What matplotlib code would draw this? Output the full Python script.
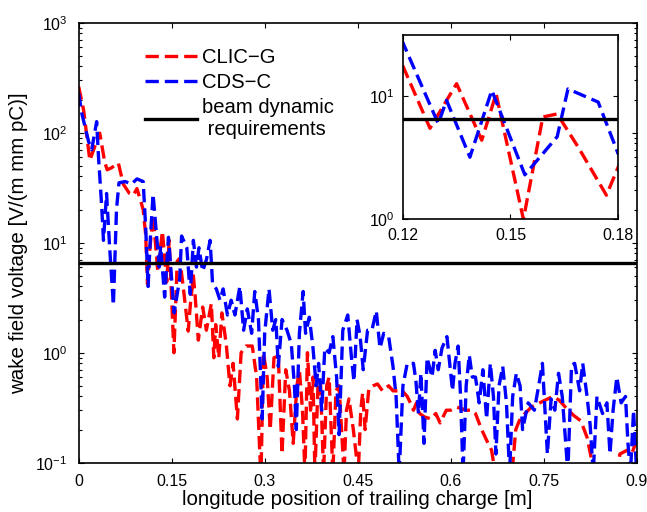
import matplotlib
matplotlib.use("Agg")
import matplotlib.pyplot as plt
from matplotlib.ticker import FixedLocator, NullLocator, LogLocator

# wake field along the trailing charge
clic_x = [0.000, 0.008, 0.018, 0.026, 0.034, 0.042, 0.046, 0.053, 0.064, 0.072,
          0.082, 0.088, 0.094, 0.100, 0.104, 0.108, 0.111, 0.115, 0.120, 0.1276,
          0.135, 0.142, 0.146, 0.1536, 0.159, 0.163, 0.169, 0.1767, 0.180, 0.185,
          0.188, 0.193, 0.200, 0.206, 0.214, 0.218, 0.221, 0.226, 0.231, 0.238,
          0.244, 0.249, 0.256, 0.262, 0.270, 0.280, 0.287, 0.294, 0.298, 0.304,
          0.309, 0.315, 0.322, 0.328, 0.334, 0.340, 0.346, 0.352, 0.356, 0.361,
          0.365, 0.369, 0.374, 0.378, 0.381, 0.386, 0.390, 0.395, 0.400, 0.404,
          0.410, 0.415, 0.420, 0.428, 0.432, 0.436, 0.443, 0.451, 0.455, 0.458,
          0.462, 0.468, 0.475, 0.482, 0.490, 0.500, 0.507, 0.515, 0.522, 0.530,
          0.535, 0.540, 0.545, 0.550, 0.558, 0.569, 0.576, 0.583, 0.593, 0.600,
          0.610, 0.625, 0.635, 0.640, 0.650, 0.658, 0.666, 0.672, 0.685, 0.698,
          0.705, 0.712, 0.720, 0.730, 0.748, 0.765, 0.775, 0.785, 0.798, 0.810,
          0.820, 0.830, 0.850, 0.866, 0.873, 0.885, 0.892, 0.900]
clic_v = [262, 160, 56, 75, 99, 54, 46, 48, 53, 34,
          28, 27, 31, 24, 20, 12, 4.2, 9, 17.8, 5.5,
          12.7, 4.4, 10.5, 1.0, 6.8, 7.2, 3.8, 1.57, 2.67, 5.0,
          3.2, 1.3, 2.6, 1.6, 2.8, 0.9, 1.8, 0.9, 2.3, 1.2,
          0.5, 0.8, 0.25, 1.0, 1.15, 1.15, 0.6, 0.07, 1.0, 0.6,
          0.2, 0.9, 0.93, 0.12, 0.7, 0.45, 0.15, 0.5, 0.7, 0.3,
          0.08, 1.0, 0.3, 0.6, 0.08, 0.5, 0.55, 0.08, 0.5, 0.6,
          0.08, 0.45, 0.5, 0.08, 0.3, 0.38, 0.2, 0.08, 0.3, 0.43,
          0.2, 0.47, 0.5, 0.52, 0.45, 0.5, 0.45, 0.45, 0.45, 0.4,
          0.35, 0.3, 0.35, 0.28, 0.26, 0.25, 0.28, 0.23, 0.3, 0.3,
          0.32, 0.3, 0.3, 0.28, 0.2, 0.16, 0.13, 0.08, 0.05, 0.07,
          0.2, 0.25, 0.28, 0.32, 0.36, 0.4, 0.37, 0.32, 0.27, 0.24,
          0.17, 0.09, 0.05, 0.07, 0.12, 0.13, 0.12, 0.16]

cds_x = [0.000, 0.005, 0.016, 0.021, 0.029, 0.032, 0.037, 0.040, 0.045, 0.050,
         0.056, 0.061, 0.065, 0.075, 0.085, 0.094, 0.104, 0.108, 0.112, 0.116,
         0.120, 0.1299, 0.1322, 0.1387, 0.1448, 0.154, 0.163, 0.166, 0.1744, 0.180,
         0.185, 0.190, 0.194, 0.200, 0.206, 0.212, 0.216, 0.222, 0.228, 0.233,
         0.240, 0.246, 0.252, 0.260, 0.266, 0.272, 0.279, 0.284, 0.290, 0.296,
         0.300, 0.307, 0.313, 0.318, 0.322, 0.328, 0.336, 0.343, 0.348, 0.351,
         0.356, 0.362, 0.366, 0.372, 0.378, 0.383, 0.387, 0.392, 0.397, 0.404,
         0.410, 0.416, 0.420, 0.426, 0.434, 0.440, 0.444, 0.449, 0.454, 0.459,
         0.466, 0.473, 0.480, 0.486, 0.492, 0.500, 0.507, 0.512, 0.517, 0.523,
         0.530, 0.540, 0.544, 0.548, 0.552, 0.557, 0.562, 0.570, 0.575, 0.580,
         0.586, 0.594, 0.599, 0.603, 0.607, 0.612, 0.616, 0.620, 0.625, 0.630,
         0.635, 0.640, 0.646, 0.652, 0.658, 0.664, 0.669, 0.673, 0.678, 0.684,
         0.690, 0.695, 0.700, 0.706, 0.712, 0.716, 0.725, 0.735, 0.742, 0.748,
         0.753, 0.756, 0.762, 0.768, 0.774, 0.780, 0.786, 0.789, 0.795, 0.800,
         0.808, 0.813, 0.820, 0.825, 0.830, 0.836, 0.845, 0.852, 0.857, 0.862,
         0.868, 0.875, 0.882, 0.886, 0.890, 0.895, 0.900]
cds_v = [228, 150, 83, 70, 126, 60, 22, 10.5, 28, 9,
         2.7, 20, 35, 36, 34, 38, 36, 14, 4.0, 12,
         27.6, 6.0, 9.3, 3.2, 11.2, 2.3, 4.7, 11.5, 9.0, 3.4,
         10.5, 6, 9, 5.5, 7, 10.5, 4.2, 3.8, 3.0, 3.8,
         2.2, 3.0, 2.2, 4.0, 1.6, 2.5, 1.5, 3.6, 2.0, 0.25,
         1.5, 3.8, 1.6, 2.0, 0.75, 2.0, 1.6, 1.2, 0.5, 0.2,
         1.5, 3.6, 1.5, 2.1, 1.1, 0.5, 0.8, 0.3, 1.1, 1.0,
         1.4, 0.6, 0.18, 1.6, 2.2, 0.9, 0.55, 2.0, 1.4, 0.7,
         1.6, 1.6, 2.4, 1.1, 1.5, 1.4, 0.75, 0.4, 0.08, 0.5,
         0.8, 0.8, 0.55, 0.28, 0.65, 0.15, 0.9, 0.6, 1.05, 0.7,
         1.1, 1.4, 0.75, 0.45, 0.8, 1.15, 0.4, 0.08, 0.5, 0.95,
         0.6, 0.6, 0.35, 0.7, 0.25, 0.8, 0.4, 0.12, 0.5, 0.75,
         0.35, 0.08, 0.4, 0.65, 0.5, 0.2, 0.35, 0.3, 0.5, 0.8,
         0.25, 0.12, 0.38, 0.3, 0.65, 0.4, 0.14, 0.08, 0.77, 0.8,
         0.45, 0.8, 0.4, 0.22, 0.08, 0.4, 0.28, 0.35, 0.12, 0.3,
         0.6, 0.35, 0.4, 0.15, 0.08, 0.3, 0.08]

limit_v = 6.6

x_ticks = [0, 0.15, 0.3, 0.45, 0.6, 0.75, 0.9]
x_labels = ["0", "0.15", "0.3", "0.45", "0.6", "0.75", "0.9"]
inset_ticks = [0.12, 0.15, 0.18]

plt.rcParams['font.family'] = ['Liberation Sans', 'DejaVu Sans']
plt.rcParams['mathtext.fontset'] = 'custom'
plt.rcParams['mathtext.rm'] = 'Liberation Sans'

dash = (0, (4.0, 1.8))


def draw(ax):
    ax.plot(clic_x, clic_v, color='red', lw=2.4, linestyle=dash, label="CLIC\u2212G")
    ax.plot(cds_x, cds_v, color='blue', lw=2.4, linestyle=dash, label="CDS\u2212C")
    ax.axhline(limit_v, color='black', lw=2.4, label="beam dynamic\n requirements")
    ax.set_yscale('log')
    for s in ax.spines.values():
        s.set_linewidth(1.2)


fig = plt.figure(figsize=(6.47, 5.12), dpi=100)
ax = fig.add_axes([0.1216, 0.0963, 0.8624, 0.8594])
draw(ax)
ax.set_xlim(0, 0.9)
ax.set_ylim(0.1, 1000)
ax.xaxis.set_major_locator(FixedLocator(x_ticks))
ax.set_xticklabels(x_labels)
ax.yaxis.set_minor_locator(LogLocator(base=10, subs=range(2, 10), numticks=20))
ax.tick_params(which='both', direction='in', top=True, right=True, labelsize=11.5, width=0.8)
ax.tick_params(which='major', length=3.5, pad=8)
ax.tick_params(which='minor', length=2.5)
ax.set_xlabel("longitude position of trailing charge [m]", fontsize=14.8, labelpad=1)
ax.set_ylabel("wake field voltage [V/(m mm pC)]", fontsize=14.8, labelpad=5)

leg = ax.legend(loc='upper left', bbox_to_anchor=(0.119, 0.943), frameon=False,
                fontsize=14.6, handlelength=2.55, handletextpad=0.27,
                labelspacing=0.3, borderpad=0, borderaxespad=0)

ins = fig.add_axes([0.6224, 0.5717, 0.3332, 0.36])
draw(ins)
ins.set_xlim(0.12, 0.18)
ins.set_ylim(1, 10 ** 1.5)
ins.xaxis.set_major_locator(FixedLocator(inset_ticks))
ins.set_xticklabels(["0.12", "0.15", "0.18"])
ins.yaxis.set_major_locator(FixedLocator([1, 10]))
ins.yaxis.set_minor_locator(NullLocator())
ins.tick_params(which='both', direction='in', top=True, right=True, labelsize=11.5,
                width=0.8, length=3.5, pad=6)

fig.savefig("out.png", dpi=100)
